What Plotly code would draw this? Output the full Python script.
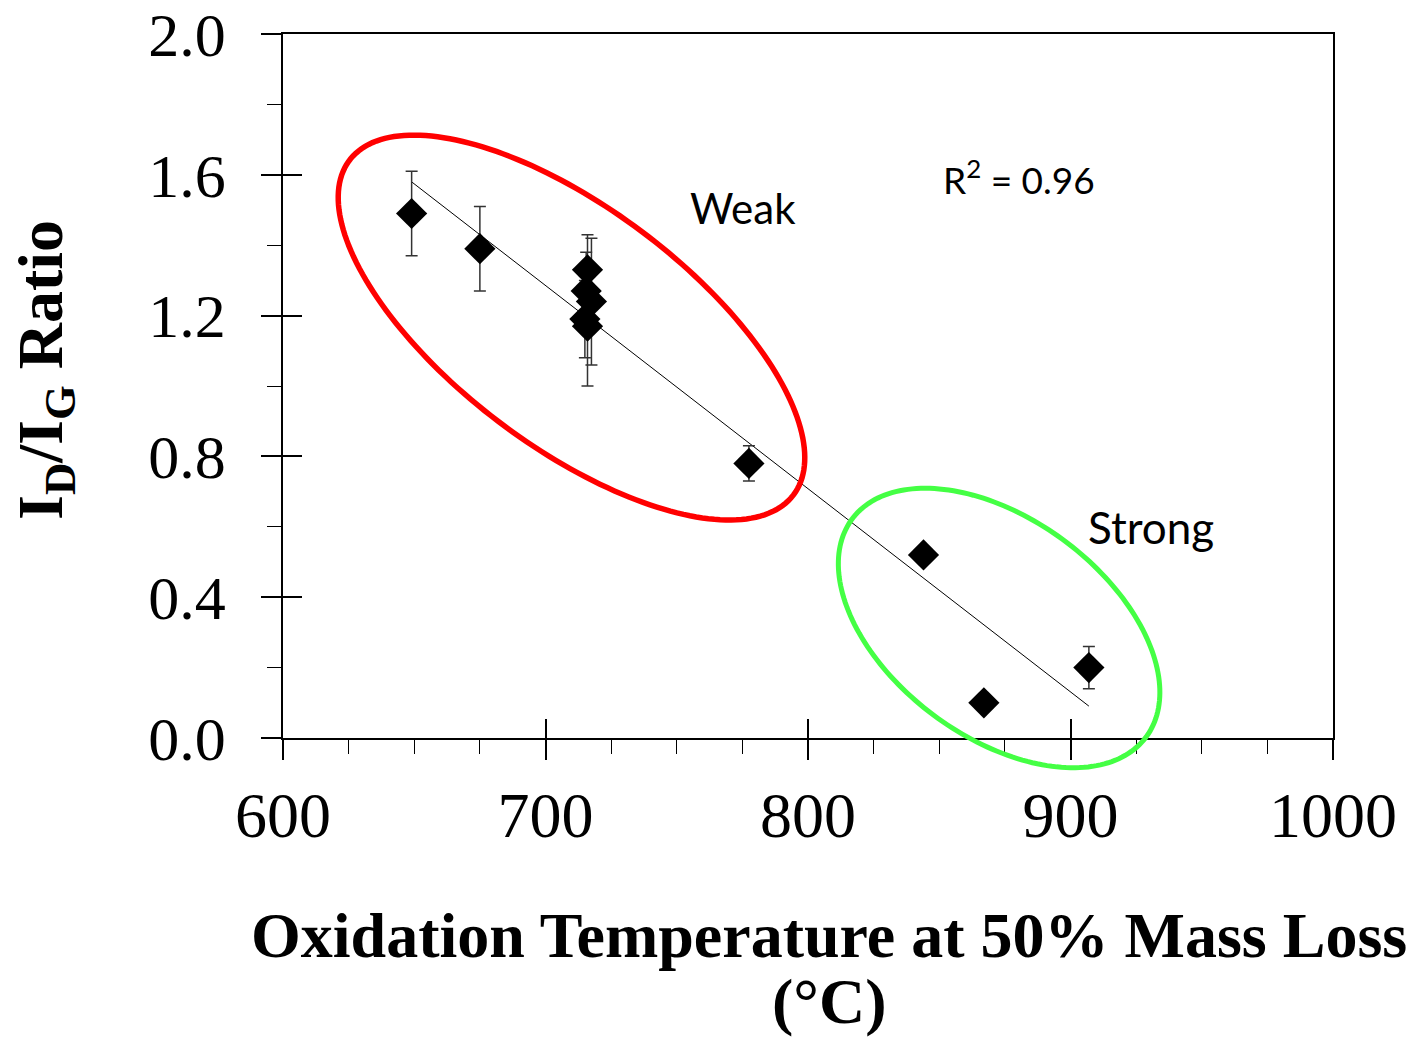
import numpy as np
import plotly.graph_objects as go

# ---- data ----
temp_c = [649, 675, 716, 715.5, 717.5, 715, 716, 777.5, 844, 867, 907]
id_ig = [1.49, 1.39, 1.33, 1.27, 1.24, 1.19, 1.17, 0.78, 0.52, 0.10, 0.20]
id_ig_err = [0.12, 0.12, 0.10, 0.11, 0.18, 0.11, 0.17, 0.05, 0.0, 0.0, 0.06]

x_range = [600, 1000]
y_range = [0.0, 2.0]
x_ticks = [600, 700, 800, 900, 1000]
y_ticks = [0.0, 0.4, 0.8, 1.2, 1.6, 2.0]
y_tick_labels = ["0.0", "0.4", "0.8", "1.2", "1.6", "2.0"]

# group ellipses: centre (data units), semi-axes in px, tilt angle (deg)
weak_ellipse = dict(cx=709.9, cy=1.166, a_px=278, b_px=119, ang=37.0)
strong_ellipse = dict(cx=872.8, cy=0.3125, a_px=183, b_px=109, ang=36.5)

# ---- layout geometry ----
W, H = 1412, 1038
ML, MR, MT, MB = 283, 79, 34, 300
PW, PH = W - ML - MR, H - MT - MB

# linear fit
slope, intercept = np.polyfit(temp_c, id_ig, 1)
fit_x = np.array([min(temp_c), max(temp_c)])
fit_y = slope * fit_x + intercept


def ellipse_path(e, n=200):
    t = np.linspace(0, 2 * np.pi, n)
    th = np.deg2rad(e["ang"])
    dpx = e["a_px"] * np.cos(t) * np.cos(th) - e["b_px"] * np.sin(t) * np.sin(th)
    dpy = e["a_px"] * np.cos(t) * np.sin(th) + e["b_px"] * np.sin(t) * np.cos(th)
    cxp = (e["cx"] - x_range[0]) / (x_range[1] - x_range[0])
    cyp = (e["cy"] - y_range[0]) / (y_range[1] - y_range[0])
    xp = cxp + dpx / PW
    yp = cyp - dpy / PH
    pts = [f"{a:.5f},{b:.5f}" for a, b in zip(xp, yp)]
    return "M " + " L ".join(pts) + " Z"


fig = go.Figure()

fig.add_trace(go.Scatter(
    x=fit_x, y=fit_y, mode="lines",
    line=dict(color="black", width=1), showlegend=False, hoverinfo="skip"))

fig.add_trace(go.Scatter(
    x=temp_c, y=id_ig, mode="markers",
    marker=dict(symbol="diamond", size=24, color="black"),
    error_y=dict(type="data", array=id_ig_err, visible=True,
                 color="#333333", thickness=1.5, width=6),
    showlegend=False))

# invisible trace so the overlay axes (inside tick marks) are drawn
fig.add_trace(go.Scatter(x=x_range, y=y_range, xaxis="x2", yaxis="y2", mode="markers",
                         marker=dict(opacity=0), showlegend=False, hoverinfo="skip"))

xtickfont = dict(family="Liberation Serif", size=64, color="black")
ytickfont = dict(family="Liberation Serif", size=62, color="black")

fig.update_layout(
    width=W, height=H,
    margin=dict(l=ML, r=MR, t=MT, b=MB, pad=0),
    paper_bgcolor="white", plot_bgcolor="white",
    xaxis=dict(range=x_range, tickvals=x_ticks, ticks="outside", ticklen=20,
               tickwidth=1.5, tickcolor="black",
               minor=dict(dtick=25, ticks="outside", ticklen=14, tickwidth=1.2, tickcolor="black"),
               showline=True, linecolor="black", linewidth=1.5, mirror=True,
               showgrid=False, zeroline=False, tickfont=xtickfont,
               ticklabelstandoff=0, ticklabeloverflow="allow", automargin=False),
    yaxis=dict(range=y_range, tickvals=y_ticks, ticktext=y_tick_labels,
               ticks="outside", ticklen=20, tickwidth=1.5, tickcolor="black",
               minor=dict(dtick=0.2, ticks="outside", ticklen=14, tickwidth=1.2, tickcolor="black"),
               showline=True, linecolor="black", linewidth=1.5, mirror=True,
               showgrid=False, zeroline=False, tickfont=ytickfont,
               ticklabelstandoff=23, ticklabeloverflow="allow", automargin=False),
    xaxis2=dict(range=x_range, tickvals=x_ticks, overlaying="x", anchor="y", side="bottom",
                ticks="inside", ticklen=19, tickwidth=1.5, tickcolor="black",
                showticklabels=False, showline=False, showgrid=False, zeroline=False,
                automargin=False),
    yaxis2=dict(range=y_range, tickvals=y_ticks, overlaying="y", anchor="x", side="left",
                ticks="inside", ticklen=19, tickwidth=1.5, tickcolor="black",
                showticklabels=False, showline=False, showgrid=False, zeroline=False,
                automargin=False),
)

fig.add_shape(type="path", path=ellipse_path(weak_ellipse), xref="paper", yref="paper",
              line=dict(color="#ff0000", width=5.5), layer="above")
fig.add_shape(type="path", path=ellipse_path(strong_ellipse), xref="paper", yref="paper",
              line=dict(color="#44ff44", width=5), layer="above")

labfont = dict(family="Lato", size=42, color="black")
fig.add_annotation(x=775.2, y=1.506, xref="x", yref="y", text="Weak",
                   showarrow=False, font=labfont)
fig.add_annotation(x=880.4, y=1.594, xref="x", yref="y", text="R<sup>2</sup> = 0.96",
                   showarrow=False, font=dict(family="Lato", size=37, color="black"))
fig.add_annotation(x=930.7, y=0.599, xref="x", yref="y", text="Strong",
                   showarrow=False, font=dict(family="Lato", size=44, color="black"))

titlefont = dict(family="Liberation Serif", size=64, color="black")
fig.add_annotation(x=(829 - ML) / PW, y=(MT + PH - 935) / PH, xref="paper", yref="paper",
                   text="<b>Oxidation Temperature at 50% Mass Loss</b>",
                   showarrow=False, font=titlefont, xanchor="center", yanchor="middle")
fig.add_annotation(x=(829 - ML) / PW, y=(MT + PH - 1001) / PH, xref="paper", yref="paper",
                   text="<b>(°C)</b>",
                   showarrow=False, font=titlefont, xanchor="center", yanchor="middle")
fig.add_annotation(x=(45 - ML) / PW, y=(MT + PH - 370) / PH, xref="paper", yref="paper",
                   text="<b>I<sub>D</sub>/I<sub>G</sub> Ratio</b>", textangle=-90,
                   showarrow=False, font=titlefont, xanchor="center", yanchor="middle")

fig.write_html("out.html")
